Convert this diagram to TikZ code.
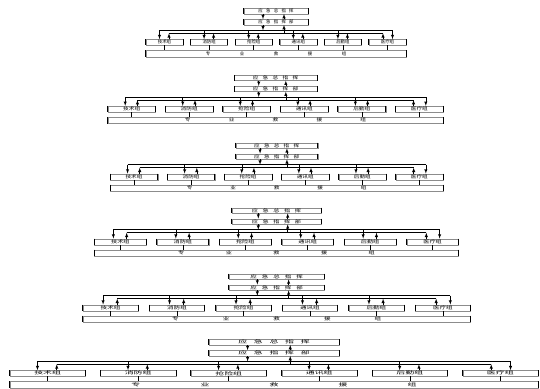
\documentclass[tikz,border=0pt]{standalone}
\usepackage{fontspec}
\newfontfamily\cjk{Noto Sans CJK SC}
\usepackage{tikz}

\tikzset{
    khung/.style={draw=black!45, line width=0.3pt, inner sep=0pt, minimum height=5.5pt,
        font=\cjk\fontsize{4.4}{4.4}\selectfont,
        append after command={(\tikzlastnode.north west) edge[draw=black, line width=0.9pt] (\tikzlastnode.south west)
            (\tikzlastnode.north east) edge[draw=black, line width=0.9pt] (\tikzlastnode.south east)}},
}

\begin{document}
\begin{tikzpicture}[>=latex, x=1pt, y=1pt, line width=0.5pt]
    \useasboundingbox (0,0) rectangle (540,-388);
    % Vẽ sáu sơ đồ giống nhau, mỗi sơ đồ giãn ngang theo hệ số \s
    \foreach \k/\cx/\cy/\s in {1/276/8.3/1.00, 2/275.5/75/1.29, 3/276.7/142.7/1.28,
        4/276.5/207.7/1.40, 5/276.7/273.7/1.49, 6/274/339.3/2.03} {
    \begin{scope}[shift={(\cx,-\cy)}, xscale=\s, transform shape]
        % Các khung chỉ huy
        \node[khung, minimum width=64pt] (top\k) at (0,-2.75)
            {应\hspace{3.3pt}急\hspace{3.3pt}总\hspace{3.3pt}指\hspace{3.3pt}挥};
        \node[khung, minimum width=64pt] (hq\k) at (0,-13.75)
            {应\hspace{3.3pt}急\hspace{3.3pt}指\hspace{3.3pt}挥\hspace{3.3pt}部};
        \node[khung, minimum width=260pt, minimum height=6.5pt] (team\k) at (0,-45.25)
            {专\hspace{29.6pt}业\hspace{29.6pt}救\hspace{29.6pt}援\hspace{29.6pt}组};

        % Mũi tên giữa hai khung chỉ huy và xuống đường trục
        \coordinate (pd\k) at (-13,-22);
        \coordinate (pu\k) at (8,-25);
        \draw[->] (top\k.south -| pd\k) -- (hq\k.north -| pd\k);
        \draw[->] (hq\k.north -| pu\k) -- (top\k.south -| pu\k);
        \draw[->] (hq\k.south -| pd\k) -- (pd\k);
        \draw[->] (pu\k) -- (hq\k.south -| pu\k);

        % Sáu tổ
        \foreach \i/\ten in {1/技术组, 2/消防组, 3/抢险组, 4/通讯组, 5/后勤组, 6/医疗组} {
            \pgfmathsetmacro{\gx}{-111.5+44.6*(\i-1)}
            \pgfmathsetmacro{\dd}{ifthenelse(\i==6,5,-5)}
            \coordinate (gd\k-\i) at (\gx+\dd,-22);
            \coordinate (gu\k-\i) at (\gx-0.9*\dd,-25);
            \node[khung, minimum width=37pt, minimum height=6pt] (g\k-\i) at (\gx,-34) {\ten};
            \draw[->] (gd\k-\i) -- (gd\k-\i |- g\k-\i.north);
            \draw[->] (g\k-\i.north -| gu\k-\i) -- (gu\k-\i);
            \draw (g\k-\i.south) -- (g\k-\i.south |- team\k.north);
        }
        % Hai đường trục ngang
        \draw (gd\k-1) -- (gd\k-6);
        \draw (gu\k-1) -- (gu\k-6);
    \end{scope}
    }
\end{tikzpicture}
\end{document}
